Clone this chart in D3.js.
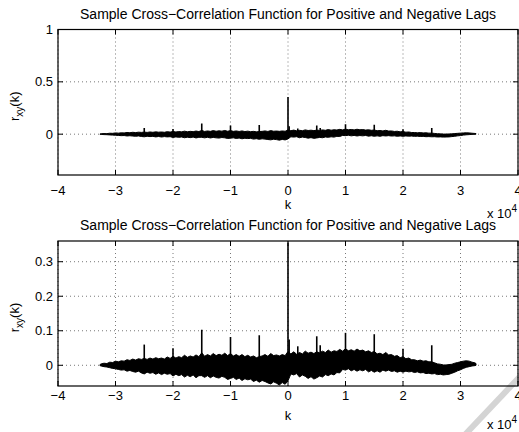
<!DOCTYPE html>
<html>
<head>
<meta charset="utf-8">
<script src="https://cdn.jsdelivr.net/npm/d3@7"></script>
<style>
body{margin:0;background:#fff}
svg{display:block}
text{font-family:"Liberation Sans",Arial,Helvetica,sans-serif;fill:#000}
</style>
</head>
<body>
<svg id="fig" width="519" height="432"></svg>
<script>
var lagK=[-3.27,-3.25,-3.2,-3.15,-3.1,-3.05,-3.0,-2.95,-2.9,-2.85,
	-2.8,-2.75,-2.7,-2.65,-2.6,-2.55,-2.5,-2.45,-2.4,-2.35,
	-2.3,-2.25,-2.2,-2.15,-2.1,-2.05,-2.0,-1.95,-1.9,-1.85,
	-1.8,-1.75,-1.7,-1.65,-1.6,-1.55,-1.5,-1.45,-1.4,-1.35,
	-1.3,-1.25,-1.2,-1.15,-1.1,-1.05,-1.0,-0.95,-0.9,-0.85,
	-0.8,-0.75,-0.7,-0.65,-0.6,-0.55,-0.5,-0.45,-0.4,-0.35,
	-0.3,-0.25,-0.2,-0.15,-0.1,-0.05,0,0.05,0.1,0.15,
	0.2,0.25,0.3,0.35,0.4,0.45,0.5,0.55,0.6,0.65,
	0.7,0.75,0.8,0.85,0.9,0.95,1.0,1.05,1.1,1.15,
	1.2,1.25,1.3,1.35,1.4,1.45,1.5,1.55,1.6,1.65,
	1.7,1.75,1.8,1.85,1.9,1.95,2.0,2.05,2.1,2.15,
	2.2,2.25,2.3,2.35,2.4,2.45,2.5,2.55,2.6,2.65,
	2.7,2.75,2.8,2.85,2.9,2.95,3.0,3.05,3.1,3.15,
	3.2,3.25,3.27]
// upper edge of the band
var bandTop=[0.002,0.004,0.006,0.005,0.009,0.008,0.012,0.010,0.013,0.012,
	0.016,0.014,0.018,0.015,0.019,0.017,0.020,0.017,0.021,0.018,
	0.022,0.019,0.021,0.018,0.024,0.020,0.026,0.021,0.025,0.022,
	0.029,0.023,0.027,0.024,0.030,0.025,0.036,0.026,0.031,0.027,
	0.034,0.028,0.032,0.029,0.035,0.028,0.034,0.027,0.031,0.026,
	0.031,0.025,0.029,0.024,0.027,0.022,0.025,0.027,0.031,0.026,
	0.034,0.028,0.030,0.027,0.031,0.028,0.040,0.033,0.039,0.032,
	0.037,0.033,0.041,0.035,0.038,0.034,0.039,0.036,0.041,0.037,
	0.044,0.038,0.042,0.040,0.046,0.041,0.048,0.042,0.045,0.041,
	0.047,0.042,0.044,0.039,0.042,0.037,0.040,0.033,0.035,0.031,
	0.037,0.030,0.031,0.026,0.028,0.022,0.025,0.019,0.021,0.016,
	0.016,0.013,0.015,0.012,0.013,0.010,0.010,0.007,0.004,0.003,
	0.001,0.001,0.002,0.003,0.006,0.008,0.010,0.012,0.013,0.012,
	0.009,0.007,0.005]
// lower edge of the band
var bandBottom=[-0.001,-0.002,-0.004,-0.005,-0.007,-0.009,-0.010,-0.012,-0.014,-0.013,
	-0.017,-0.015,-0.018,-0.020,-0.017,-0.022,-0.025,-0.020,-0.023,-0.021,
	-0.026,-0.022,-0.027,-0.023,-0.026,-0.024,-0.031,-0.026,-0.030,-0.027,
	-0.034,-0.029,-0.033,-0.028,-0.036,-0.030,-0.030,-0.035,-0.030,-0.036,
	-0.031,-0.035,-0.037,-0.032,-0.035,-0.041,-0.038,-0.035,-0.041,-0.037,
	-0.044,-0.039,-0.042,-0.040,-0.047,-0.043,-0.049,-0.044,-0.047,-0.051,
	-0.054,-0.048,-0.052,-0.057,-0.050,-0.055,-0.045,-0.025,-0.028,-0.024,
	-0.034,-0.028,-0.032,-0.038,-0.033,-0.040,-0.036,-0.031,-0.034,-0.027,
	-0.030,-0.025,-0.028,-0.021,-0.022,-0.012,-0.014,-0.010,-0.016,-0.012,
	-0.017,-0.013,-0.016,-0.012,-0.019,-0.015,-0.020,-0.016,-0.020,-0.014,
	-0.017,-0.014,-0.018,-0.016,-0.020,-0.017,-0.020,-0.017,-0.019,-0.018,
	-0.021,-0.019,-0.022,-0.021,-0.024,-0.023,-0.025,-0.024,-0.027,-0.026,
	-0.028,-0.027,-0.026,-0.023,-0.020,-0.016,-0.013,-0.009,-0.006,-0.004,
	-0.002,-0.001,0.000]
// isolated peaks
var spikeK=[-2.5,-2.0,-1.5,-1.0,-0.5,0,0.02,0.17,0.5,0.56,1.0,1.5,2.0,2.5]
var spikeVal=[0.060,0.049,0.103,0.082,0.087,0.356,0.075,0.055,0.084,0.058,0.094,0.090,0.048,0.058]

var xTicks=[-4,-3,-2,-1,0,1,2,3,4]
var titleText="Sample Cross\u2212Correlation Function for Positive and Negative Lags"

var svg=d3.select("#fig")
var n=Math.min(lagK.length,bandTop.length,bandBottom.length)
var band=lagK.slice(0,n).map((k,i)=>({k:k*1e4,hi:bandTop[i],lo:bandBottom[i]}))
var spikes=spikeK.map((k,i)=>({k:k*1e4,v:spikeVal[i]}))

var x=d3.scaleLinear().domain([-4e4,4e4]).range([58,518])

var panels=[
	{id:"a",y:d3.scaleLinear().domain([-0.39,1]).range([175,29.5]),yTicks:[0,0.5,1],fmt:d=>d===0.5?"0.5":d3.format("d")(d),titleY:19,tickY:195},
	{id:"b",y:d3.scaleLinear().domain([-0.06,0.36]).range([386,241]),yTicks:[0,0.1,0.2,0.3],fmt:d=>d===0?"0":d3.format(".1f")(d),titleY:230,tickY:400}
]

// watermark stripe in the corner
svg.append("line")
	.attr("x1",528).attr("y1",368).attr("x2",460).attr("y2",440)
	.attr("stroke","#d4d4d4").attr("stroke-width",6)

panels.forEach(p=>{
	var y=p.y
	var top=y.range()[1],bot=y.range()[0]
	var g=svg.append("g")

	svg.append("clipPath").attr("id","clip"+p.id)
	.append("rect").attr("x",58).attr("y",top).attr("width",460).attr("height",bot-top)

	// grid
	xTicks.forEach(t=>{
		g.append("line").attr("x1",x(t*1e4)).attr("x2",x(t*1e4)).attr("y1",top).attr("y2",bot)
		.attr("stroke","#555").attr("stroke-width",0.8).attr("stroke-dasharray","1,3")
	})
	p.yTicks.forEach(t=>{
		g.append("line").attr("x1",58).attr("x2",518).attr("y1",y(t)).attr("y2",y(t))
		.attr("stroke","#555").attr("stroke-width",0.8).attr("stroke-dasharray","1,3")
	})

	var plot=g.append("g").attr("clip-path","url(#clip"+p.id+")")

	var area=d3.area()
	.x(d=>x(d.k))
	.y0(d=>y(d.lo))
	.y1(d=>y(d.hi))

	plot.append("path")
	.datum(band)
	.attr("d",area)
	.attr("fill","#000")
	.attr("stroke","#000")
	.attr("stroke-width",1)
	.attr("stroke-linejoin","miter")

	plot.selectAll(".spike")
	.data(spikes)
	.enter()
	.append("line")
	.attr("x1",d=>x(d.k)).attr("x2",d=>x(d.k))
	.attr("y1",y(0)).attr("y2",d=>y(d.v))
	.attr("stroke","#000").attr("stroke-width",1.6)

	// box
	g.append("rect").attr("x",58).attr("y",top).attr("width",460).attr("height",bot-top)
	.attr("fill","none").attr("stroke","#000").attr("stroke-width",1.2)

	// inward ticks
	xTicks.forEach(t=>{
		g.append("line").attr("x1",x(t*1e4)).attr("x2",x(t*1e4)).attr("y1",bot).attr("y2",bot-5).attr("stroke","#000")
		g.append("line").attr("x1",x(t*1e4)).attr("x2",x(t*1e4)).attr("y1",top).attr("y2",top+5).attr("stroke","#000")
		g.append("text").attr("x",x(t*1e4)).attr("y",p.tickY).attr("text-anchor","middle")
		.style("font-size","13px").text(t<0?"\u2212"+(-t):t)
	})
	p.yTicks.forEach(t=>{
		g.append("line").attr("x1",58).attr("x2",63).attr("y1",y(t)).attr("y2",y(t)).attr("stroke","#000")
		g.append("line").attr("x1",518).attr("x2",513).attr("y1",y(t)).attr("y2",y(t)).attr("stroke","#000")
		g.append("text").attr("x",53).attr("y",y(t)+4.5).attr("text-anchor","end")
		.style("font-size","13px").text(p.fmt(t))
	})

	g.append("text").attr("x",288).attr("y",p.titleY).attr("text-anchor","middle")
	.style("font-size","14px").text(titleText)

	g.append("text").attr("x",288).attr("y",bot+34).attr("text-anchor","middle")
	.style("font-size","13px").text("k")

	var mult=g.append("text").attr("x",487).attr("y",bot+43).style("font-size","13px")
	mult.append("tspan").text("x 10")
	mult.append("tspan").attr("dy",-6).style("font-size","10px").text("4")

	var cy=(top+bot)/2+4
	var yl=g.append("text").attr("transform","translate(19,"+cy+") rotate(-90)")
	.attr("text-anchor","middle").style("font-size","13px")
	yl.append("tspan").text("r")
	yl.append("tspan").attr("dy",4).style("font-size","10px").text("xy")
	yl.append("tspan").attr("dy",-4).text("(k)")
})
</script>
</body>
</html>
